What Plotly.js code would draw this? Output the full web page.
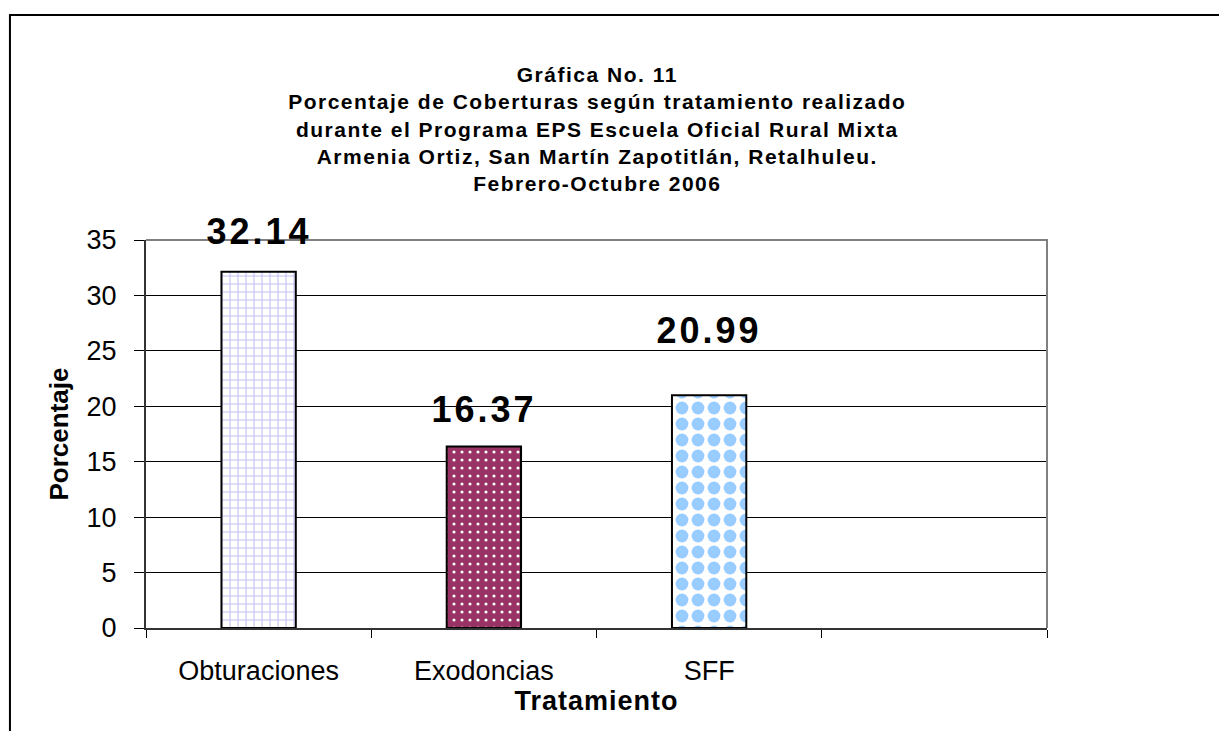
<!DOCTYPE html>
<html>
<head>
<meta charset="utf-8">
<script src="https://cdn.plot.ly/plotly-3.0.1.min.js"></script>
<style>
  html, body { margin: 0; padding: 0; background: #fff; }
  #grafico { width: 1219px; height: 731px; }
  #grafico .gtitle { letter-spacing: 1.5px; }
  #grafico .xtitle { letter-spacing: 1px; }
  #grafico .annotation-text { letter-spacing: 3px; }
</style>
</head>
<body>
<div id="grafico"></div>
<script>
// datos de la gráfica
const tratamientos = ['Obturaciones', 'Exodoncias', 'SFF']
const porcentajes = [32.14, 16.37, 20.99]
const yTicks = [0, 5, 10, 15, 20, 25, 30, 35]
const titulo = [
  'Gráfica No. 11',
  'Porcentaje de Coberturas según tratamiento realizado',
  'durante el Programa EPS Escuela Oficial Rural Mixta',
  'Armenia Ortiz, San Martín Zapotitlán, Retalhuleu.',
  'Febrero-Octubre 2006'
]

const fuente = '"Liberation Sans", Arial, sans-serif'
const posiciones = tratamientos.map((t, i) => i)

// trama de cada barra (ladrillo, puntos, cuadros)
const tramas = [
  { color: '#ffffff', shape: '+', fg: '#c0c0f4', size: 8, solidity: 0.25 },
  { color: '#993366', shape: '.', fg: '#ffffff', size: 8, solidity: 0.12 },
  { color: '#ffffff', shape: '.', fg: '#99ccff', size: 16, solidity: 0.5 }
]
// desplazamiento vertical de las etiquetas (px)
const desplazamientos = [40, 37, 65]

const traces = tratamientos.map((t, i) => ({
  type: 'bar',
  x: [posiciones[i]],
  y: [porcentajes[i]],
  width: 0.33,
  hoverinfo: 'skip',
  marker: {
    color: tramas[i].color,
    line: { color: '#000', width: 2 },
    pattern: {
      shape: tramas[i].shape,
      fgcolor: tramas[i].fg,
      fgopacity: 1,
      size: tramas[i].size,
      solidity: tramas[i].solidity,
      fillmode: 'overlay'
    }
  }
}))

// etiquetas sobre las barras
const etiquetas = porcentajes.map((v, i) => ({
  x: posiciones[i],
  y: v,
  xref: 'x',
  yref: 'y',
  text: '<b>' + v.toFixed(2) + '</b>',
  showarrow: false,
  yanchor: 'middle',
  yshift: desplazamientos[i],
  font: { family: fuente, size: 36, color: '#000' }
}))

const layout = {
  width: 1219,
  height: 731,
  margin: { l: 146, r: 172, t: 240, b: 103 },
  barmode: 'overlay',
  paper_bgcolor: '#fff',
  plot_bgcolor: '#fff',
  showlegend: false,
  font: { family: fuente, color: '#000' },
  title: {
    text: titulo.map(l => '<b>' + l + '</b>').join('<br>'),
    font: { family: fuente, size: 21, color: '#000' },
    x: 0.49, xref: 'container', xanchor: 'center',
    y: 1 - 82 / 731, yref: 'container', yanchor: 'middle'
  },
  xaxis: {
    range: [-0.5, 3.5],
    tickmode: 'array',
    tickvals: posiciones,
    ticktext: tratamientos,
    ticks: '',
    ticklabelstandoff: 18,
    tickfont: { family: fuente, size: 27, color: '#000' },
    showgrid: false,
    zeroline: false,
    showline: true,
    linecolor: '#333',
    linewidth: 2,
    minor: {
      tickmode: 'array',
      tickvals: [-0.5, 0.5, 1.5, 2.5, 3.5],
      ticks: 'outside',
      ticklen: 8,
      tickwidth: 1,
      tickcolor: '#000',
      showgrid: false
    },
    title: {
      text: '<b>Tratamiento</b>',
      font: { family: fuente, size: 27, color: '#000' },
      standoff: 4
    }
  },
  yaxis: {
    range: [0, 35],
    tickmode: 'array',
    tickvals: yTicks,
    ticks: 'outside',
    ticklen: 10,
    tickwidth: 1,
    tickcolor: '#000',
    ticklabelstandoff: 12,
    tickfont: { family: fuente, size: 27, color: '#000' },
    showgrid: true,
    gridcolor: '#000',
    gridwidth: 1,
    zeroline: false,
    showline: true,
    linecolor: '#333',
    linewidth: 2,
    title: {
      text: '<b>Porcentaje</b>',
      font: { family: fuente, size: 26, color: '#000' },
      standoff: 10
    }
  },
  annotations: etiquetas,
  shapes: [
    // borde gris del área de trazado (arriba y derecha)
    {
      type: 'path', xref: 'paper', yref: 'paper', layer: 'above',
      path: 'M 0 1 L 1 1 L 1 0',
      line: { color: '#808080', width: 2 }
    },
    // marco exterior
    {
      type: 'path', xref: 'paper', yref: 'paper', layer: 'above',
      path: 'M -0.151 -0.3 L -0.151 1.58 L 1.2 1.58',
      line: { color: '#000', width: 2 }
    }
  ]
}

Plotly.newPlot('grafico', traces, layout, { staticPlot: true })
</script>
</body>
</html>
